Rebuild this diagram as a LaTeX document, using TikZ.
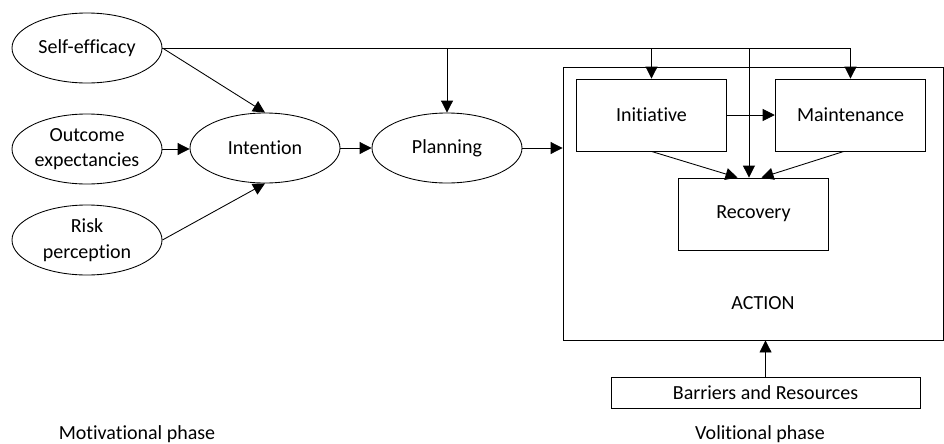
\documentclass[tikz,border=0pt]{standalone}
\usepackage{fontspec}
\setmainfont{Carlito}[Ligatures=NoCommon]
\usetikzlibrary{shapes.geometric,arrows.meta}

\tikzset{
  every node/.style={font=\fontsize{15}{19}\selectfont, align=center},
  oval/.style={draw, ellipse, line width=0.65pt, inner sep=0pt, minimum width=112.5pt, minimum height=52.5pt},
  stagebox/.style={draw, rectangle, line width=0.65pt, minimum width=113pt, minimum height=54pt},
  arr/.style={line width=0.65pt, -{Triangle[length=9pt,width=9pt]}}
}

\begin{document}
\begin{tikzpicture}[x=0.75pt,y=0.75pt,yscale=-1,xscale=1]
\useasboundingbox (0,0) rectangle (944,443);

%motivational phase
\node[oval] (self) at (87,48) {Self-efficacy};
\node[oval] (outcome) at (87,149) {Outcome\\expectancies};
\node[oval] (risk) at (87,240) {Risk\\perception};
\node[oval] (intention) at (265,148) {Intention};
\node[oval] (planning) at (447,148) {Planning};

%volitional phase
\node[draw, line width=0.65pt, minimum width=285pt, minimum height=204.75pt] (action) at (753,203.5) {};
\node (actionlabel) at (763,303) {ACTION};
\node[stagebox] (initiative) at (651.5,115) {Initiative};
\node[stagebox] (maintenance) at (850.5,115) {Maintenance};
\node[stagebox] (recovery) at (753.5,214) {Recovery};
\node[draw, line width=0.65pt, minimum width=231.75pt, minimum height=23.25pt] (barriers) at (765.5,392.5) {Barriers and Resources};

\node (motivational) at (137,434) {Motivational phase};
\node (volitional) at (760,434) {Volitional phase};

%arrows
\draw[arr] (self.east) -- (intention.north);
\draw[arr] (outcome.east) -- (outcome.east -| intention.west);
\draw[arr] (risk.east) -- (intention.south);
\draw[arr] (intention.east) -- (planning.west);
\draw[arr] (planning.east) -- (planning.east -| action.west);

%self-efficacy line along the top
\draw[arr] (self.east) -| (maintenance.north);
\draw[arr] (planning.north |- self.east) -- (planning.north);
\draw[arr] (initiative.north |- self.east) -- (initiative.north);
\draw[arr] ([xshift=-3.4pt]recovery.north |- self.east) -- ([xshift=-3.4pt]recovery.north);

\draw[arr] (initiative.east) -- (maintenance.west);
\draw[arr] (initiative.south) -- ([xshift=-12pt]recovery.north);
\draw[arr] ([xshift=-5pt]maintenance.south) -- ([xshift=6pt]recovery.north);
\draw[arr] (barriers.north) -- (barriers.north |- action.south);

\end{tikzpicture}
\end{document}
